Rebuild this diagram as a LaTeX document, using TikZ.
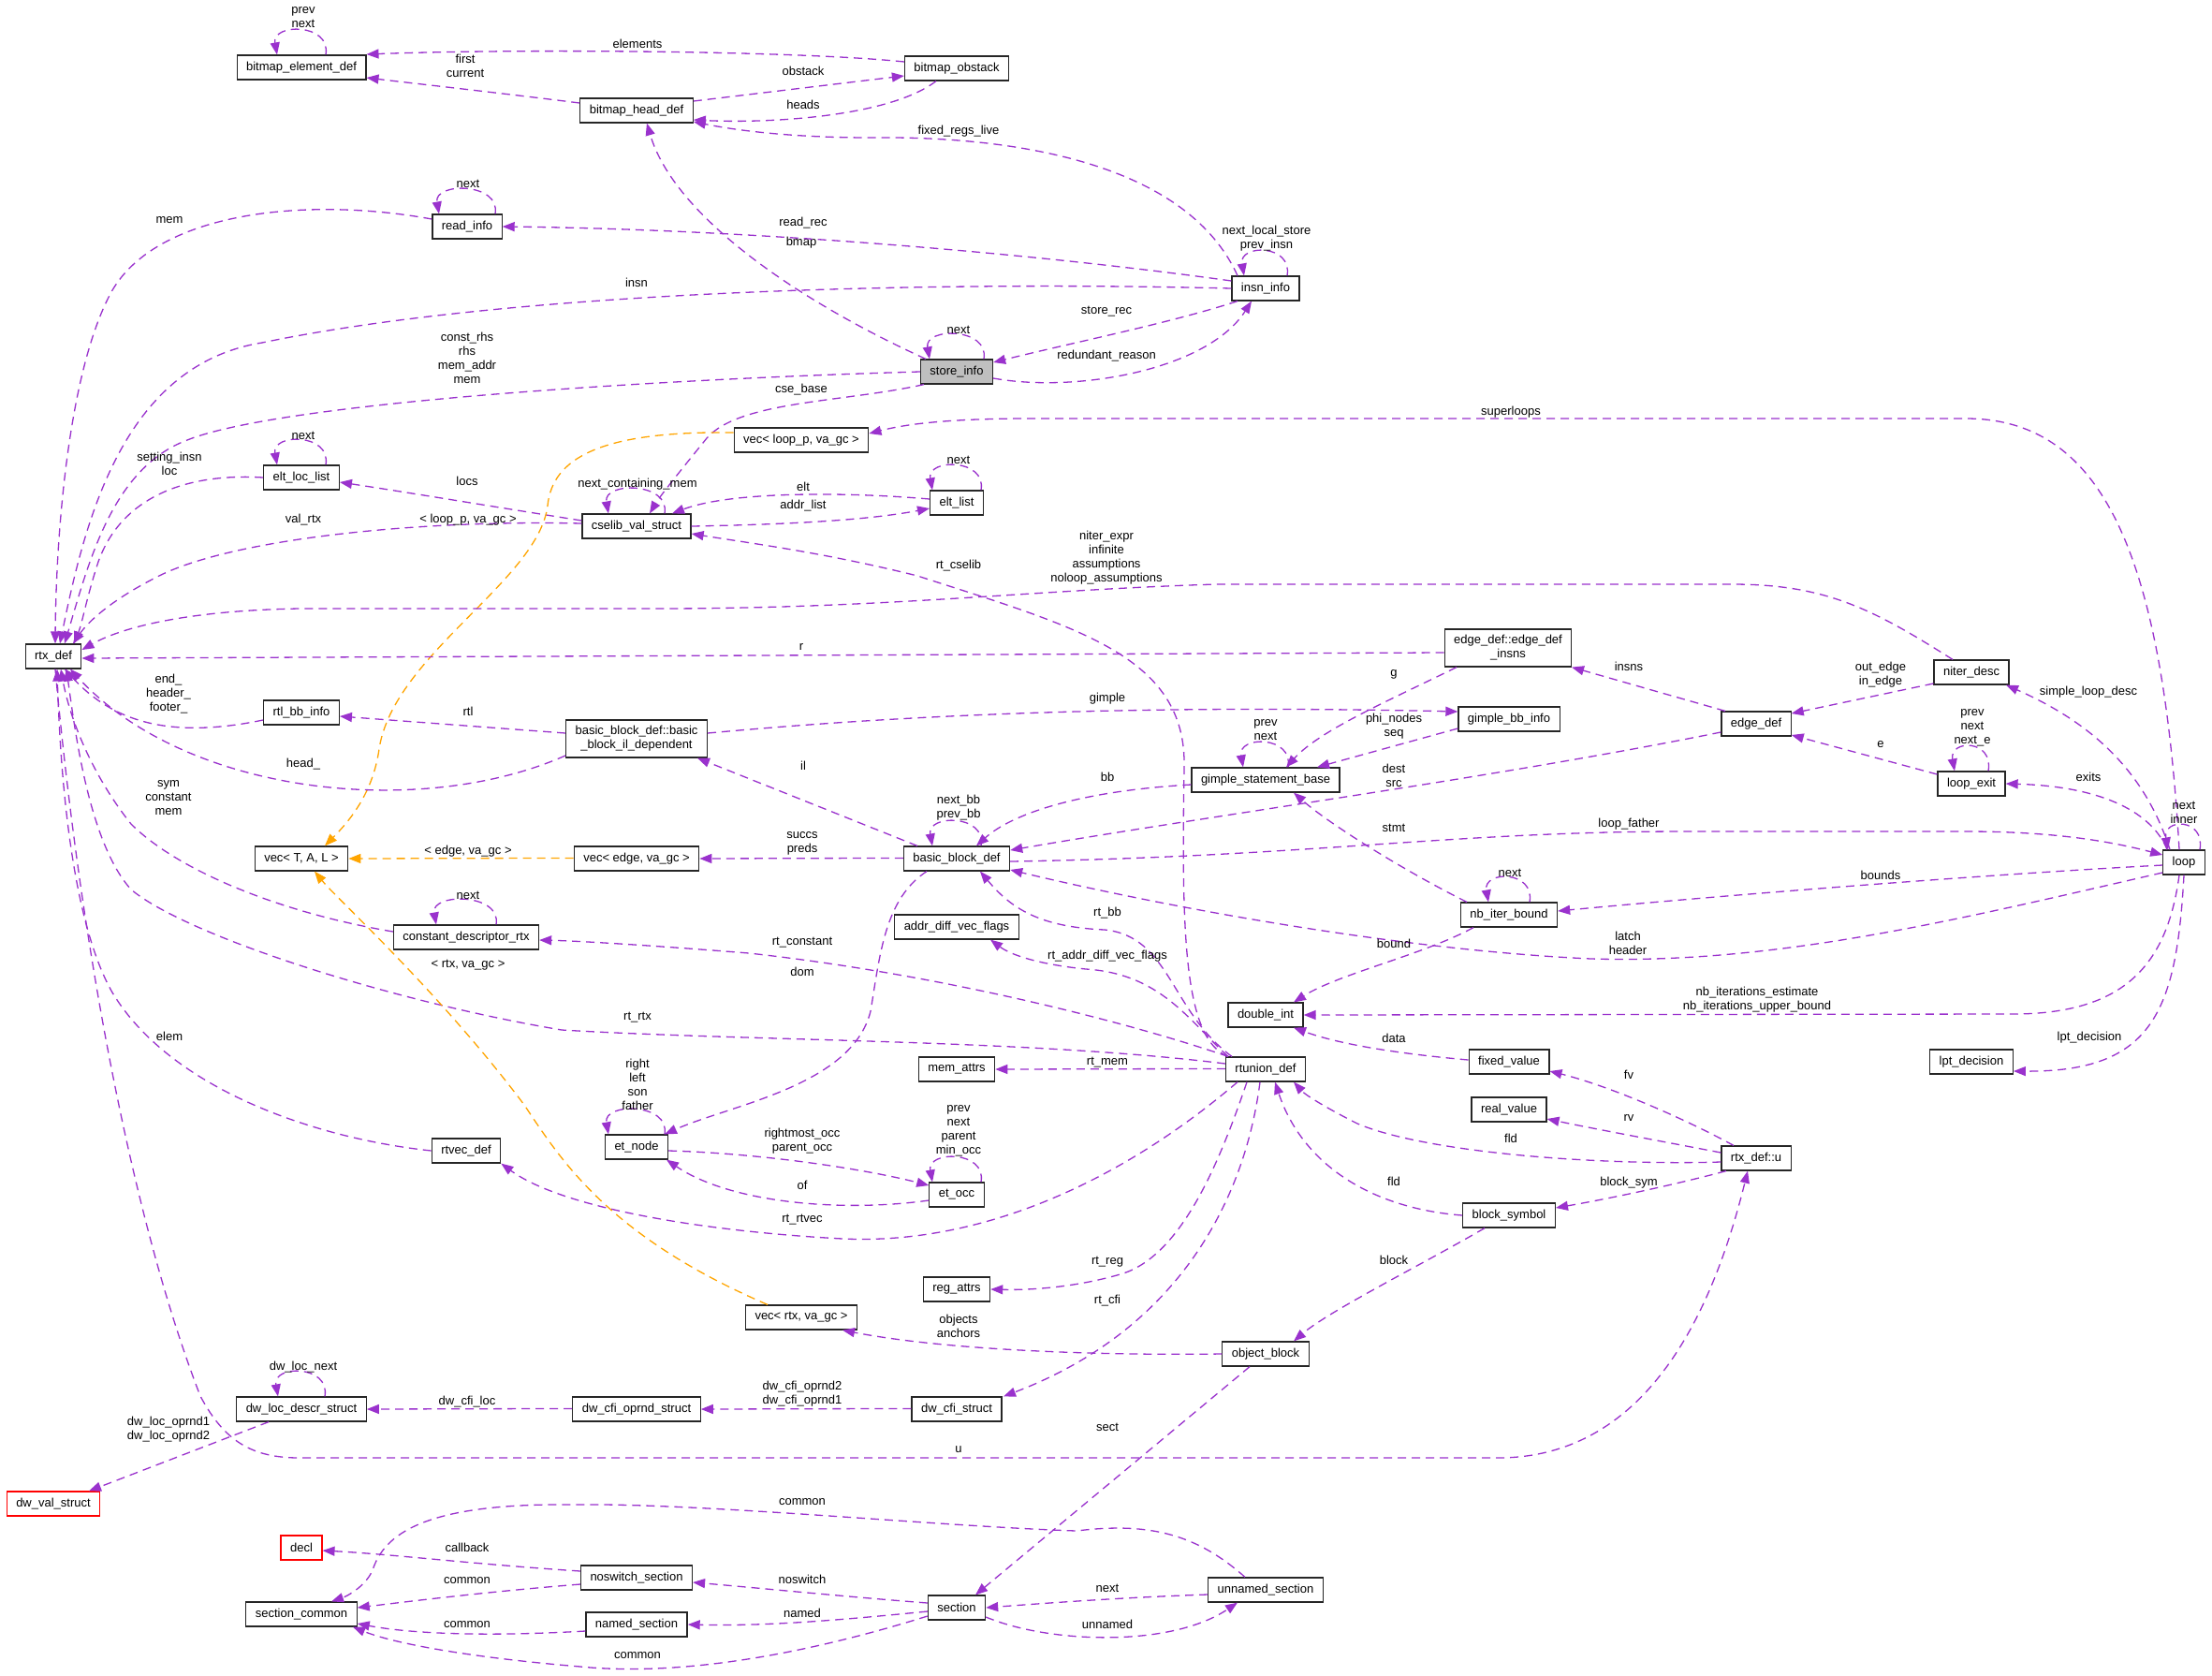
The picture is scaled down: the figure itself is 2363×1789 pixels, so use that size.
\documentclass[tikz,border=0pt]{standalone}
\usepackage{fontspec}
\setmainfont{Liberation Sans}
\usetikzlibrary{arrows.meta}
\definecolor{depc}{HTML}{9A32CD}
\definecolor{tplc}{HTML}{FFA500}
\tikzset{x=1pt,y=-1pt,every node/.style={font=\fontsize{13}{15}\selectfont},
 cls/.style={draw=black!85,line width=1.2pt,fill=white,inner xsep=10pt,inner ysep=3pt,minimum height=26pt},
 cls2/.style={cls,minimum height=40pt,align=center},
 lbl/.style={align=center,inner sep=0pt},
 dep/.style={draw=depc,line width=1.3pt,dash pattern=on 9pt off 6pt,-{Triangle[length=13pt,width=10pt]}},
 tpl/.style={dep,draw=tplc}}
\newcommand{\selfloop}[4]{\draw[dep] ([xshift=#2pt]#1.north) .. controls +(6,-34) and +(-6,-34) .. ([xshift=-#2pt]#1.north) node[lbl] at (#3) {#4};}
\begin{document}
\begin{tikzpicture}
\path[use as bounding box,fill=white] (0,0) rectangle (2363,1789);
\node[cls] (bed) at (322,72) {bitmap\_element\_def};
\node[cls] (bhd) at (680,118) {bitmap\_head\_def};
\node[cls] (bob) at (1022,73) {bitmap\_obstack};
\node[cls] (rinf) at (499,242) {read\_info};
\node[cls] (insn) at (1352,308) {insn\_info};
\node[cls,fill=black!25] (store) at (1022,397) {store\_info};
\node[cls] (vlp) at (856,470) {vec< loop\_p, va\_gc >};
\node[cls] (ell) at (322,510) {elt\_loc\_list};
\node[cls] (cvs) at (680,562) {cselib\_val\_struct};
\node[cls] (elt) at (1022,537) {elt\_list};
\node[cls] (rtx) at (57,701) {rtx\_def};
\node[cls2] (einsns) at (1611,692) {edge\_def::edge\_def\\\_insns};
\node[cls] (niter) at (2106,718) {niter\_desc};
\node[cls] (rbb) at (322,761) {rtl\_bb\_info};
\node[cls2] (bbil) at (680,789) {basic\_block\_def::basic\\\_block\_il\_dependent};
\node[cls] (gbb) at (1612,768) {gimple\_bb\_info};
\node[cls] (edge) at (1876,773) {edge\_def};
\node[cls] (gsb) at (1352,833) {gimple\_statement\_base};
\node[cls] (lexit) at (2106,837) {loop\_exit};
\node[cls] (vtal) at (322,917) {vec< T, A, L >};
\node[cls] (veg) at (680,917) {vec< edge, va\_gc >};
\node[cls] (bbd) at (1022,917) {basic\_block\_def};
\node[cls] (loop) at (2333,921) {loop};
\node[cls] (nbi) at (1612,977) {nb\_iter\_bound};
\node[cls] (adv) at (1022,990) {addr\_diff\_vec\_flags};
\node[cls] (cdr) at (498,1001) {constant\_descriptor\_rtx};
\node[cls] (dint) at (1352,1084) {double\_int};
\node[cls] (fval) at (1612,1134) {fixed\_value};
\node[cls] (lpt) at (2106,1134) {lpt\_decision};
\node[cls] (mattr) at (1022,1142) {mem\_attrs};
\node[cls] (rtu) at (1352,1142) {rtunion\_def};
\node[cls] (rval) at (1612,1185) {real\_value};
\node[cls] (etn) at (680,1225) {et\_node};
\node[cls] (rtvec) at (498,1229) {rtvec\_def};
\node[cls] (rxu) at (1876,1237) {rtx\_def::u};
\node[cls] (eto) at (1022,1276) {et\_occ};
\node[cls] (bsym) at (1612,1298) {block\_symbol};
\node[cls] (rattr) at (1022,1377) {reg\_attrs};
\node[cls] (vrtx) at (856,1407) {vec< rtx, va\_gc >};
\node[cls] (oblk) at (1352,1446) {object\_block};
\node[cls] (dwloc) at (322,1505) {dw\_loc\_descr\_struct};
\node[cls] (dwop) at (680,1505) {dw\_cfi\_oprnd\_struct};
\node[cls] (dwcfi) at (1022,1505) {dw\_cfi\_struct};
\node[cls,draw=red] (dwval) at (57,1606) {dw\_val\_struct};
\node[cls,draw=red] (decl) at (322,1653) {decl};
\node[cls] (nosw) at (680,1685) {noswitch\_section};
\node[cls] (unsec) at (1352,1698) {unnamed\_section};
\node[cls] (sec) at (1022,1717) {section};
\node[cls] (scom) at (322,1724) {section\_common};
\node[cls] (named) at (680,1735) {named\_section};
\selfloop{bed}{26}{324,19}{prev\\next}
\draw[dep] ([yshift=7]bob.west) .. controls (850,54) and (550,52) .. ([yshift=14]bed.east) node[lbl] at (681,47) {elements};
\draw[dep] ([yshift=8]bhd.west) .. controls (540,100) and (450,90) .. ([yshift=-11]bed.east) node[lbl] at (497,70) {first\\current};
\draw[dep] ([yshift=10]bhd.east) -- ([yshift=-8]bob.west) node[lbl] at (858,76) {obstack};
\draw[dep] ([xshift=-22]bob.south) .. controls (950,125) and (820,132) .. ([yshift=-10]bhd.east) node[lbl] at (858,112) {heads};
\draw[dep] ([xshift=-30]insn.north) .. controls (1270,180) and (1100,145) .. (930,147) .. controls (850,147) and (790,140) .. ([yshift=-12]bhd.east) node[lbl] at (1024,140) {fixed\_regs\_live};
\draw[dep] ([xshift=-33]store.north) .. controls (850,320) and (720,230) .. ([xshift=11]bhd.south) node[lbl] at (856,259) {bmap};
\selfloop{rinf}{30}{500,196}{next}
\draw[dep] ([yshift=8]insn.west) .. controls (1100,270) and (800,245) .. (rinf.east) node[lbl] at (858,238) {read\_rec};
\draw[dep] ([yshift=8]rinf.west) .. controls (330,210) and (170,225) .. (120,310) .. controls (75,390) and (60,560) .. ([xshift=2]rtx.north) node[lbl] at (181,235) {mem};
\draw[dep] (insn.west) .. controls (1000,300) and (550,310) .. (280,366) .. controls (130,390) and (90,560) .. ([xshift=7]rtx.north) node[lbl] at (680,302) {insn};
\draw[dep] (store.west) .. controls (700,405) and (300,430) .. (200,470) .. controls (120,500) and (95,600) .. ([xshift=12]rtx.north) node[lbl] at (499,382) {const\_rhs\\rhs\\mem\_addr\\mem};
\selfloop{insn}{23}{1353,255}{next\_local\_store\\prev\_insn}
\draw[dep] ([xshift=-30]insn.south) .. controls (1250,345) and (1150,365) .. ([yshift=10]store.east) node[lbl] at (1182,333) {store\_rec};
\draw[dep] ([yshift=-7]store.east) .. controls (1150,420) and (1290,395) .. ([xshift=-15]insn.south) node[lbl] at (1182,380) {redundant\_reason};
\selfloop{store}{29}{1024,352}{next}
\draw[dep] ([xshift=-35]store.south) .. controls (900,430) and (790,428) .. (755,468) .. controls (725,505) and (705,530) .. ([xshift=14]cvs.north) node[lbl] at (856,416) {cse\_base};
\selfloop{cvs}{30}{681,517}{next\_containing\_mem}
\draw[dep] ([yshift=6]cvs.west) .. controls (520,540) and (430,525) .. ([yshift=-5]ell.east) node[lbl] at (499,514) {locs};
\selfloop{ell}{26}{324,465}{next}
\draw[dep] (ell.west) .. controls (200,505) and (130,530) .. (105,600) .. controls (92,640) and (88,665) .. ([xshift=22]rtx.north) node[lbl] at (181,495) {setting\_insn\\loc};
\draw[dep] ([yshift=3]cvs.west) .. controls (450,555) and (250,575) .. (170,615) .. controls (110,645) and (90,670) .. ([xshift=21]rtx.north) node[lbl] at (324,555) {val\_rtx};
\draw[tpl] ([yshift=8]vlp.west) .. controls (640,460) and (590,490) .. (585,540) .. controls (575,620) and (420,700) .. (405,800) .. controls (398,850) and (370,880) .. ([xshift=25]vtal.north) node[lbl] at (500,555) {< loop\_p, va\_gc >};
\selfloop{elt}{26}{1024,491}{next}
\draw[dep] ([yshift=4]elt.west) .. controls (900,525) and (780,525) .. ([xshift=38]cvs.north) node[lbl] at (858,520) {elt};
\draw[dep] (cvs.east) .. controls (850,560) and (930,555) .. ([yshift=-6]elt.west) node[lbl] at (858,540) {addr\_list};
\draw[dep] ([xshift=-5]loop.north) .. controls (2310,600) and (2250,447) .. (2100,447) -- (1100,447) .. controls (1000,447) and (960,455) .. ([yshift=7]vlp.east) node[lbl] at (1614,440) {superloops};
\draw[dep] ([xshift=-40]rtu.north) .. controls (1265,1110) and (1262,1000) .. (1265,820) .. controls (1268,700) and (1150,670) .. (980,615) .. controls (880,590) and (800,580) .. ([yshift=-8]cvs.east) node[lbl] at (1024,604) {rt\_cselib};
\draw[dep] ([xshift=-20]niter.north) .. controls (2000,650) and (1950,624) .. (1850,624) -- (1300,624) .. controls (1100,630) and (950,650) .. (700,650) -- (320,650) .. controls (200,652) and (130,670) .. ([yshift=7]rtx.east) node[lbl] at (1182,596) {niter\_expr\\infinite\\assumptions\\noloop\_assumptions};
\draw[dep] ([yshift=-5]einsns.west) -- ([yshift=-2]rtx.east) node[lbl] at (856,691) {r};
\draw[dep] ([yshift=6]bbil.west) -- ([yshift=-4]rbb.east) node[lbl] at (500,760) {rtl};
\draw[dep] ([yshift=-8]rbb.west) .. controls (180,790) and (120,770) .. ([xshift=12]rtx.south) node[lbl] at (180,741) {end\_\\header\_\\footer\_};
\draw[dep] ([yshift=-18]bbil.west) .. controls (450,875) and (200,850) .. ([xshift=18]rtx.south) node[lbl] at (324,816) {head\_};
\draw[dep] ([yshift=6]bbil.east) .. controls (950,765) and (1200,752) .. ([yshift=8]gbb.west) node[lbl] at (1183,746) {gimple};
\draw[dep] ([xshift=-42]bbd.north) -- ([xshift=65]bbil.south) node[lbl] at (858,818) {il};
\draw[dep] ([xshift=-55]einsns.south) .. controls (1480,750) and (1410,780) .. ([xshift=22]gsb.north) node[lbl] at (1489,720) {g};
\draw[dep] ([yshift=-10]gbb.west) -- ([xshift=55]gsb.north) node[lbl] at (1489,776) {phi\_nodes\\seq};
\selfloop{gsb}{24}{1352,780}{prev\\next}
\draw[dep] ([yshift=-5]gsb.west) .. controls (1150,845) and (1080,870) .. ([xshift=21]bbd.north) node[lbl] at (1183,830) {bb};
\draw[dep] ([xshift=-33]edge.north) -- ([xshift=68]einsns.south) node[lbl] at (1740,712) {insns};
\draw[dep] ([yshift=-9]edge.west) .. controls (1600,830) and (1300,870) .. ([yshift=9]bbd.east) node[lbl] at (1489,828) {dest\\src};
\draw[dep] ([yshift=-12]niter.west) -- ([yshift=11]edge.east) node[lbl] at (2009,721) {out\_edge\\in\_edge};
\draw[dep] ([xshift=-15]loop.north) .. controls (2290,820) and (2230,770) .. ([xshift=37]niter.south) node[lbl] at (2231,739) {simple\_loop\_desc};
\draw[dep] ([yshift=10]lexit.west) -- ([yshift=-12]edge.east) node[lbl] at (2009,795) {e};
\selfloop{lexit}{18}{2107,777}{prev\\next\\next\_e}
\draw[dep] ([xshift=-18]loop.north) .. controls (2300,870) and (2250,840) .. (lexit.east) node[lbl] at (2231,830) {exits};
\selfloop{loop}{17}{2333,868}{next\\inner}
\selfloop{bbd}{26}{1024,863}{next\_bb\\prev\_bb}
\draw[dep] ([yshift=0.6]bbd.west) -- (veg.east) node[lbl] at (857,901) {succs\\preds};
\draw[tpl] ([yshift=0.6]veg.west) -- (vtal.east) node[lbl] at (500,909) {< edge, va\_gc >};
\draw[dep] ([yshift=-3]bbd.east) .. controls (1400,915) and (1550,888) .. (1800,888) -- (2100,888) .. controls (2200,888) and (2260,900) .. ([yshift=8]loop.west) node[lbl] at (1740,880) {loop\_father};
\draw[dep] ([yshift=-3]loop.west) .. controls (2100,935) and (1800,960) .. ([yshift=4]nbi.east) node[lbl] at (2009,935) {bounds};
\selfloop{nbi}{22}{1613,932}{next}
\draw[dep] ([xshift=-45]nbi.north) .. controls (1500,930) and (1420,880) .. ([xshift=30]gsb.south) node[lbl] at (1489,884) {stmt};
\draw[dep] ([yshift=-11]loop.west) .. controls (2100,980) and (1900,1030) .. (1700,1024) .. controls (1500,1015) and (1250,970) .. ([yshift=-12]bbd.east) node[lbl] at (1739,1007) {latch\\header};
\draw[dep] ([xshift=-38]nbi.south) .. controls (1520,1020) and (1430,1040) .. ([xshift=30]dint.north) node[lbl] at (1489,1008) {bound};
\draw[dep] ([xshift=-5]loop.south) .. controls (2315,1030) and (2270,1083) .. (2150,1083) -- (dint.east) node[lbl] at (1877,1068) {nb\_iterations\_estimate\\nb\_iterations\_upper\_bound};
\draw[dep] (loop.south) .. controls (2325,1080) and (2300,1145) .. ([yshift=-10]lpt.east) node[lbl] at (2232,1108) {lpt\_decision};
\draw[dep] ([yshift=2]fval.west) .. controls (1490,1125) and (1430,1115) .. ([xshift=30]dint.south) node[lbl] at (1489,1109) {data};
\draw[dep] ([xshift=-36]rtu.north) .. controls (1250,1080) and (1250,1000) .. (1180,993) .. controls (1110,990) and (1080,970) .. ([xshift=25]bbd.south) node[lbl] at (1183,975) {rt\_bb};
\draw[dep] ([xshift=-40]rtu.north) .. controls (1270,1090) and (1240,1040) .. (1160,1035) .. controls (1110,1030) and (1080,1020) .. ([xshift=36]adv.south) node[lbl] at (1183,1021) {rt\_addr\_diff\_vec\_flags};
\draw[dep] ([xshift=-40]rtu.north) .. controls (1200,1090) and (1000,1040) .. (800,1018) .. controls (700,1010) and (620,1005) .. ([yshift=-3]cdr.east) node[lbl] at (857,1007) {rt\_constant};
\selfloop{cdr}{32}{500,956}{next}
\draw[dep] ([yshift=6]cdr.west) .. controls (300,975) and (190,930) .. (140,880) .. controls (100,830) and (75,770) .. ([xshift=8]rtx.south) node[lbl] at (180,852) {sym\\constant\\mem};
\draw[dep] ([xshift=-32]bbd.south) .. controls (945,960) and (940,1020) .. (930,1080) .. controls (910,1160) and (780,1180) .. ([xshift=30]etn.north) node[lbl] at (857,1038) {dom};
\draw[dep] ([yshift=6]rtu.west) .. controls (1100,1110) and (800,1112) .. (600,1100) .. controls (420,1070) and (200,1000) .. (140,950) .. controls (95,900) and (80,780) .. ([xshift=14]rtx.south) node[lbl] at (681,1087) {rt\_rtx};
\draw[dep] ([yshift=0.6]rtu.west) -- (mattr.east) node[lbl] at (1183,1135) {rt\_mem};
\draw[dep] (rtvec.west) .. controls (330,1215) and (180,1160) .. (120,1060) .. controls (80,990) and (65,850) .. ([xshift=4]rtx.south) node[lbl] at (181,1107) {elem};
\selfloop{etn}{30}{681,1158}{right\\left\\son\\father}
\draw[dep] ([yshift=-4]etn.east) .. controls (820,1232) and (930,1250) .. ([yshift=10]eto.west) node[lbl] at (857,1219) {rightmost\_occ\\parent\_occ};
\draw[dep] ([yshift=-6]eto.west) .. controls (900,1295) and (780,1285) .. ([xshift=32]etn.south) node[lbl] at (857,1266) {of};
\selfloop{eto}{26}{1024,1208}{prev\\next\\parent\\min\_occ}
\draw[dep] ([xshift=-30]rtu.south) .. controls (1200,1260) and (1050,1330) .. (900,1323) .. controls (750,1315) and (600,1290) .. (rtvec.south east) node[lbl] at (857,1303) {rt\_rtvec};
\draw[dep] ([xshift=-24]rxu.north) .. controls (1800,1195) and (1720,1160) .. ([yshift=-10]fval.east) node[lbl] at (1740,1148) {fv};
\draw[dep] ([yshift=6]rxu.west) .. controls (1770,1218) and (1700,1205) .. ([yshift=-10]rval.east) node[lbl] at (1740,1194) {rv};
\draw[dep] ([yshift=-4]rxu.west) .. controls (1700,1245) and (1520,1230) .. (1450,1200) .. controls (1420,1185) and (1395,1170) .. ([xshift=30]rtu.south) node[lbl] at (1614,1216) {fld};
\draw[dep] ([xshift=-32]rxu.south) .. controls (1790,1265) and (1720,1280) .. ([yshift=8]bsym.east) node[lbl] at (1740,1263) {block\_sym};
\draw[dep] (bsym.west) .. controls (1460,1290) and (1390,1240) .. ([xshift=10]rtu.south) node[lbl] at (1489,1262) {fld};
\draw[dep] ([xshift=-26]bsym.south) .. controls (1520,1350) and (1420,1400) .. ([xshift=30]oblk.north) node[lbl] at (1489,1346) {block};
\draw[dep] ([xshift=-20]rtu.south) .. controls (1300,1250) and (1260,1340) .. (1200,1360) .. controls (1150,1375) and (1100,1378) .. (rattr.east) node[lbl] at (1183,1348) {rt\_reg};
\draw[dep] ([xshift=-6]rtu.south) .. controls (1330,1280) and (1260,1420) .. ([xshift=50]dwcfi.north) node[lbl] at (1183,1389) {rt\_cfi};
\draw[tpl] ([xshift=-36]vrtx.north) .. controls (650,1320) and (600,1240) .. (560,1180) .. controls (470,1060) and (360,960) .. ([xshift=14]vtal.south) node[lbl] at (500,1031) {< rtx, va\_gc >};
\draw[dep] (oblk.west) .. controls (1150,1448) and (1000,1440) .. ([xshift=44]vrtx.south) node[lbl] at (1024,1416) {objects\\anchors};
\draw[dep] ([xshift=-17]oblk.south) -- ([xshift=20]sec.north) node[lbl] at (1183,1524) {sect};
\draw[dep] ([yshift=0.6]dwcfi.west) -- (dwop.east) node[lbl] at (857,1489) {dw\_cfi\_oprnd2\\dw\_cfi\_oprnd1};
\draw[dep] ([yshift=0.6]dwop.west) -- (dwloc.east) node[lbl] at (499,1497) {dw\_cfi\_loc};
\selfloop{dwloc}{25}{324,1460}{dw\_loc\_next}
\draw[dep] ([xshift=-35]dwloc.south) -- ([xshift=38]dwval.north) node[lbl] at (180,1527) {dw\_loc\_oprnd1\\dw\_loc\_oprnd2};
\draw[dep] ([xshift=2]rtx.south) .. controls (85,1000) and (140,1300) .. (214,1491) .. controls (240,1540) and (270,1557) .. (320,1557) -- (1600,1557) .. controls (1760,1557) and (1830,1400) .. ([xshift=-9]rxu.south) node[lbl] at (1024,1548) {u};
\draw[dep] ([yshift=5]sec.west) .. controls (900,1705) and (800,1695) .. ([yshift=-5]nosw.east) node[lbl] at (857,1687) {noswitch};
\draw[dep] ([yshift=-4]sec.west) .. controls (900,1730) and (820,1737) .. (named.east) node[lbl] at (857,1723) {named};
\draw[dep] ([yshift=-9]sec.west) .. controls (850,1770) and (720,1790) .. (620,1780) .. controls (500,1770) and (420,1755) .. ([xshift=55]scom.south) node[lbl] at (681,1768) {common};
\draw[dep] ([yshift=-5]unsec.west) .. controls (1200,1706) and (1120,1712) .. (sec.east) node[lbl] at (1183,1696) {next};
\draw[dep] ([yshift=-10]sec.east) .. controls (1120,1755) and (1250,1760) .. ([xshift=-30]unsec.south) node[lbl] at (1183,1735) {unnamed};
\draw[dep] ([xshift=-22]unsec.north) .. controls (1280,1640) and (1230,1625) .. (1150,1635) .. controls (1000,1630) and (750,1605) .. (612,1607) .. controls (450,1605) and (410,1640) .. (398,1677) .. controls (390,1695) and (370,1705) .. ([xshift=32]scom.north) node[lbl] at (857,1604) {common};
\draw[dep] ([yshift=7]nosw.west) .. controls (500,1670) and (420,1660) .. ([yshift=-3]decl.east) node[lbl] at (499,1653) {callback};
\draw[dep] ([yshift=-7]nosw.west) .. controls (520,1700) and (440,1710) .. ([yshift=7]scom.east) node[lbl] at (499,1688) {common};
\draw[dep] ([yshift=-7]named.west) .. controls (520,1748) and (440,1745) .. ([yshift=-10]scom.east) node[lbl] at (499,1735) {common};
\end{tikzpicture}
\end{document}
